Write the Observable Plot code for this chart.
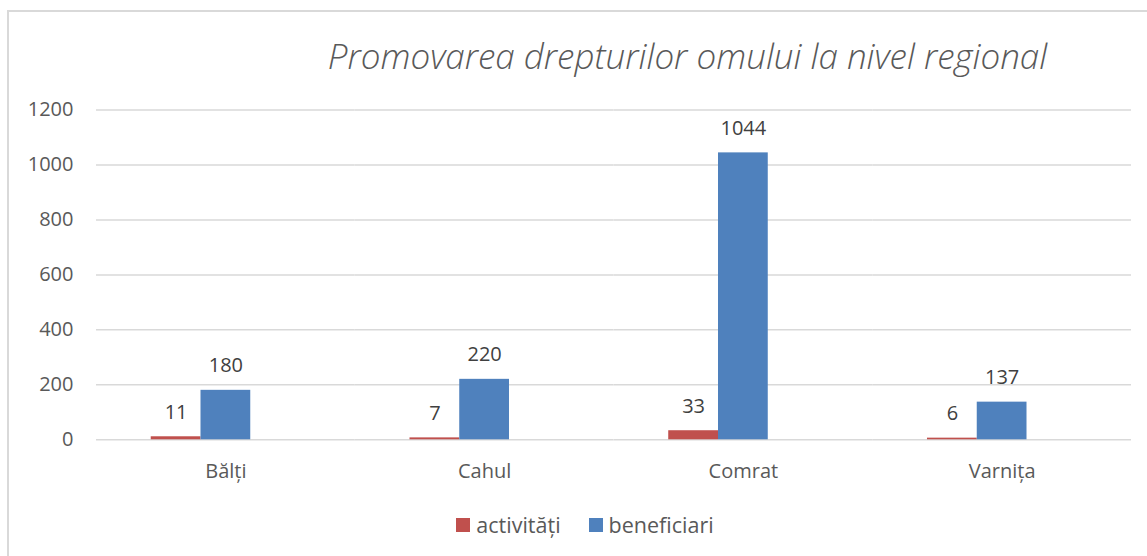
<!DOCTYPE html>
<html>
<head>
<meta charset="utf-8">
<script src="https://cdn.jsdelivr.net/npm/d3@7"></script>
<script src="https://cdn.jsdelivr.net/npm/@observablehq/plot@0.6"></script>
<style>
  html, body { margin: 0; padding: 0; background: #fff; width: 1147px; height: 556px; overflow: hidden; }
  #frame { position: absolute; left: 7px; top: 10px; width: 1160px; height: 600px; border: 2px solid #d9d9d9; box-sizing: border-box; }
  #chart { position: absolute; left: 0; top: 0; }
  #title { position: absolute; left: 0; top: 32px; width: 1375px; text-align: center; font-family: "Open Sans", sans-serif; font-style: italic; font-weight: 300; font-size: 35px; color: #595959; white-space: nowrap; }
  #legend { position: absolute; left: 0; top: 510px; width: 1170px; display: flex; justify-content: center; align-items: center; font-family: "Open Sans", sans-serif; font-size: 21.5px; color: #595959; }
  .sw { display: inline-block; width: 14px; height: 14px; margin-right: 6px; }
  .item { display: flex; align-items: center; margin: 0 14px; }
</style>
</head>
<body>
<div id="frame"></div>
<div id="chart"></div>
<div id="title">Promovarea drepturilor omului la nivel regional</div>
<div id="legend"></div>
<script>
const categories = ["Bălți", "Cahul", "Comrat", "Varnița"];
const seriesNames = ["activități", "beneficiari"];
const activitati = [11, 7, 33, 6];
const beneficiari = [180, 220, 1044, 137];
const colors = ["#C0504D", "#4F81BD"];
const yTicks = [0, 200, 400, 600, 800, 1000, 1200];

const data = [];
categories.forEach((c, i) => {
  data.push({cat: c, series: seriesNames[0], value: activitati[i]});
  data.push({cat: c, series: seriesNames[1], value: beneficiari[i]});
});

const plot = Plot.plot({
  width: 1147,
  height: 556,
  marginLeft: 96,
  marginRight: 16,
  marginTop: 109.5,
  marginBottom: 116.7,
  style: {fontFamily: "'Open Sans', sans-serif", fontSize: "20px", color: "#595959", background: "transparent"},
  fx: {domain: categories, padding: 0, round: false, label: null, tickSize: 0, tickPadding: 24, axis: "bottom"},
  x: {domain: [...seriesNames, " "], paddingInner: 0, paddingOuter: 1.1, round: false, axis: null},
  y: {domain: [0, 1200], ticks: yTicks, tickFormat: d => String(d), tickSize: 0, tickPadding: 23, label: null, axis: "left"},
  color: {domain: seriesNames, range: colors},
  marks: [
    Plot.ruleY(yTicks, {stroke: "#d9d9d9", strokeWidth: 1.5}),
    Plot.barY(data, {fx: "cat", x: "series", y: "value", fill: "series"}),
    Plot.text(data, {fx: "cat", x: "series", y: "value", text: d => String(d.value), dy: -18, lineAnchor: "bottom", fill: "#404040", fontSize: 20})
  ]
});
document.getElementById("chart").appendChild(plot);

const legend = document.getElementById("legend");
seriesNames.forEach((s, i) => {
  const item = document.createElement("div");
  item.className = "item";
  const sw = document.createElement("span");
  sw.className = "sw";
  sw.style.background = colors[i];
  item.appendChild(sw);
  const t = document.createElement("span");
  t.textContent = s;
  item.appendChild(t);
  legend.appendChild(item);
});
</script>
</body>
</html>
